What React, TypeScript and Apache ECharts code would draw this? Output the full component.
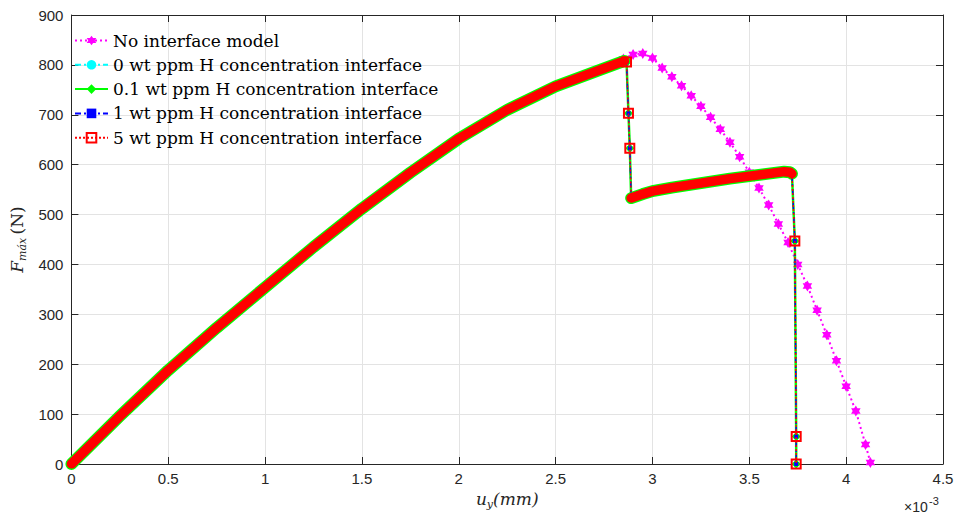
import React, { useEffect, useRef } from 'react';
import * as echarts from 'echarts';

// No interface model (magenta)
const noInterfaceX = [0, 0.25, 0.5, 0.75, 1.0, 1.25, 1.5, 1.75, 2.0, 2.25, 2.5, 2.75, 2.85, 2.9, 2.95, 3.0, 3.05, 3.1, 3.15, 3.2, 3.25, 3.3, 3.35, 3.4, 3.45, 3.5, 3.55, 3.6, 3.65, 3.7, 3.75, 3.8, 3.85, 3.9, 3.95, 4.0, 4.05, 4.1, 4.125];
const noInterfaceY = [0, 96, 188, 273, 354, 435, 512, 584, 652, 710, 757, 793, 812, 821, 823, 814, 794, 776, 758, 738, 717, 695, 671, 645, 616, 585, 553, 519, 481, 444, 400, 357, 308, 259, 207, 156, 106, 39, 3];

// Interface models: loading branch, first drop, second branch, final drop
const branch1X = [0, 0.25, 0.5, 0.75, 1.0, 1.25, 1.5, 1.75, 2.0, 2.25, 2.5, 2.75, 2.855];
const branch1Y = [0, 96, 188, 273, 354, 435, 512, 584, 652, 710, 757, 793, 808];
const drop1X = [2.866, 2.876, 2.883];
const drop1Y = [806, 703, 633];
const branch2X = [2.89, 2.95, 3.0, 3.1, 3.2, 3.3, 3.4, 3.5, 3.6, 3.68, 3.71, 3.72];
const branch2Y = [533, 541, 547, 554, 560, 566, 572, 577, 582, 586, 585, 582];
const drop2X = [3.735, 3.742, 3.742];
const drop2Y = [447, 55, 0];

const xTickMin = 0, xTickMax = 4.5, xTickStep = 0.5;
const yTickMin = 0, yTickMax = 900, yTickStep = 100;

const seriesNames = [
  'No interface model',
  '0 wt ppm H concentration interface',
  '0.1 wt ppm H concentration interface',
  '1 wt ppm H concentration interface',
  '5 wt ppm H concentration interface',
];

const HEXAGRAM = 'path://M50 0L64.43 25L93.3 25L78.87 50L93.3 75L64.43 75L50 100L35.57 75L6.7 75L21.13 50L6.7 25L35.57 25Z';

const zip = (xs: number[], ys: number[]) => xs.map((x, i) => [x, ys[i]]);
const zipNoSymbol = (xs: number[], ys: number[]) => xs.map((x, i) => ({ value: [x, ys[i]], symbol: 'none' }));

export default function App() {
  const ref = useRef<HTMLDivElement>(null);
  useEffect(() => {
    document.body.style.margin = '0';
    if (!ref.current) return;
    const chart = echarts.init(ref.current, undefined, { renderer: 'svg' });
    const full = [
      ...zipNoSymbol(branch1X, branch1Y),
      ...zip(drop1X, drop1Y),
      ...zipNoSymbol(branch2X, branch2Y),
      ...zip(drop2X, drop2Y),
    ];
    const band = [...zip(branch1X, branch1Y), '-', ...zip(branch2X, branch2Y)];
    const axisColor = '#262626';
    const serif = 'DejaVu Serif';
    const nameRich = {
      i: { fontFamily: serif, fontStyle: 'italic', fontSize: 17, color: axisColor, lineHeight: 22 },
      n: { fontFamily: serif, fontSize: 17, color: axisColor, lineHeight: 22 },
      s: { fontFamily: serif, fontStyle: 'italic', fontSize: 11, color: axisColor, lineHeight: 13, verticalAlign: 'bottom' },
    };
    const xBase = {
      type: 'value', min: xTickMin, max: xTickMax, interval: xTickStep,
      axisLine: { show: true, onZero: false, lineStyle: { color: axisColor, width: 1 } },
      axisTick: { show: true, inside: true, length: 7, lineStyle: { color: axisColor } },
    };
    const yBase = {
      type: 'value', min: yTickMin, max: yTickMax, interval: yTickStep,
      axisLine: { show: true, onZero: false, lineStyle: { color: axisColor, width: 1 } },
      axisTick: { show: true, inside: true, length: 7, lineStyle: { color: axisColor } },
    };
    const option: any = {
      animation: false,
      backgroundColor: '#ffffff',
      textStyle: { fontFamily: 'Liberation Sans, Arial, sans-serif' },
      grid: { left: 65, right: 19, top: 15, bottom: 52, containLabel: false },
      legend: {
        data: seriesNames,
        orient: 'vertical',
        left: 74,
        top: 32,
        padding: 0,
        itemWidth: 33,
        itemHeight: 12,
        itemGap: 7.3,
        textStyle: { fontFamily: serif, fontSize: 17, color: '#000', lineHeight: 17 },
      },
      xAxis: [
        {
          ...xBase, position: 'bottom',
          axisLabel: { color: axisColor, fontSize: 15, margin: 7, formatter: (v: number) => String(Number(v.toFixed(2))) },
          splitLine: { show: true, lineStyle: { color: '#e3e3e3', width: 1 } },
          name: '{i|u}{s|y}{i|(mm)}', nameLocation: 'middle', nameGap: 10,
          nameTextStyle: { rich: nameRich },
        },
        { ...xBase, position: 'top', axisLabel: { show: false }, splitLine: { show: false } },
      ],
      yAxis: [
        {
          ...yBase, position: 'left',
          axisLabel: { color: axisColor, fontSize: 15, margin: 8 },
          splitLine: { show: true, lineStyle: { color: '#e3e3e3', width: 1 } },
          name: '{i|F}{s|máx} {n|(N)}', nameLocation: 'middle', nameRotate: 90, nameGap: 35,
          nameTextStyle: { rich: nameRich },
        },
        { ...yBase, position: 'right', axisLabel: { show: false }, splitLine: { show: false } },
      ],
      graphic: [
        { type: 'text', x: 904, y: 500, style: { text: '×10', fontSize: 14, fill: axisColor, fontFamily: 'Liberation Sans' } },
        { type: 'text', x: 929, y: 495, style: { text: '-3', fontSize: 11, fill: axisColor, fontFamily: 'Liberation Sans' } },
      ],
      series: [
        {
          name: seriesNames[0], type: 'line', z: 2, data: zip(noInterfaceX, noInterfaceY),
          symbol: HEXAGRAM, symbolSize: 11, symbolKeepAspect: true,
          itemStyle: { color: '#ff00ff' },
          lineStyle: { color: '#ff00ff', width: 2, type: [2, 3] },
        },
        {
          name: seriesNames[1], type: 'line', z: 5, data: full,
          symbol: 'circle', symbolSize: 6,
          itemStyle: { color: '#00ffff' },
          lineStyle: { color: '#00ffff', width: 1.5, type: [6, 3, 2, 3] },
        },
        {
          name: seriesNames[2], type: 'line', z: 6, data: full,
          symbol: 'diamond', symbolSize: 9,
          itemStyle: { color: '#00ff00' },
          lineStyle: { color: '#00ff00', width: 2.5, type: 'solid' },
        },
        {
          name: seriesNames[3], type: 'line', z: 7, data: full,
          symbol: 'rect', symbolSize: 4,
          itemStyle: { color: '#0000ff' },
          lineStyle: { color: '#0000ff', width: 1.5, type: [6, 3, 2, 3] },
        },
        {
          name: seriesNames[4], type: 'line', z: 8, data: full,
          symbol: 'rect', symbolSize: 9,
          itemStyle: { color: 'rgba(0,0,0,0)', borderColor: '#ff0000', borderWidth: 2 },
          lineStyle: { color: '#ff0000', width: 1.5, type: [2, 2] },
        },
        {
          name: seriesNames[2], type: 'line', z: 3, data: band, connectNulls: false,
          symbol: 'none', silent: true,
          lineStyle: { color: '#00ff00', width: 12, cap: 'round', join: 'round' },
        },
        {
          name: seriesNames[4], type: 'line', z: 9, data: band, connectNulls: false,
          symbol: 'none', silent: true,
          lineStyle: { color: '#ff0000', width: 9.5, cap: 'round', join: 'round' },
        },
      ],
    };
    chart.setOption(option);
    return () => chart.dispose();
  }, []);
  return <div ref={ref} style={{ width: 962, height: 516 }} />;
}
